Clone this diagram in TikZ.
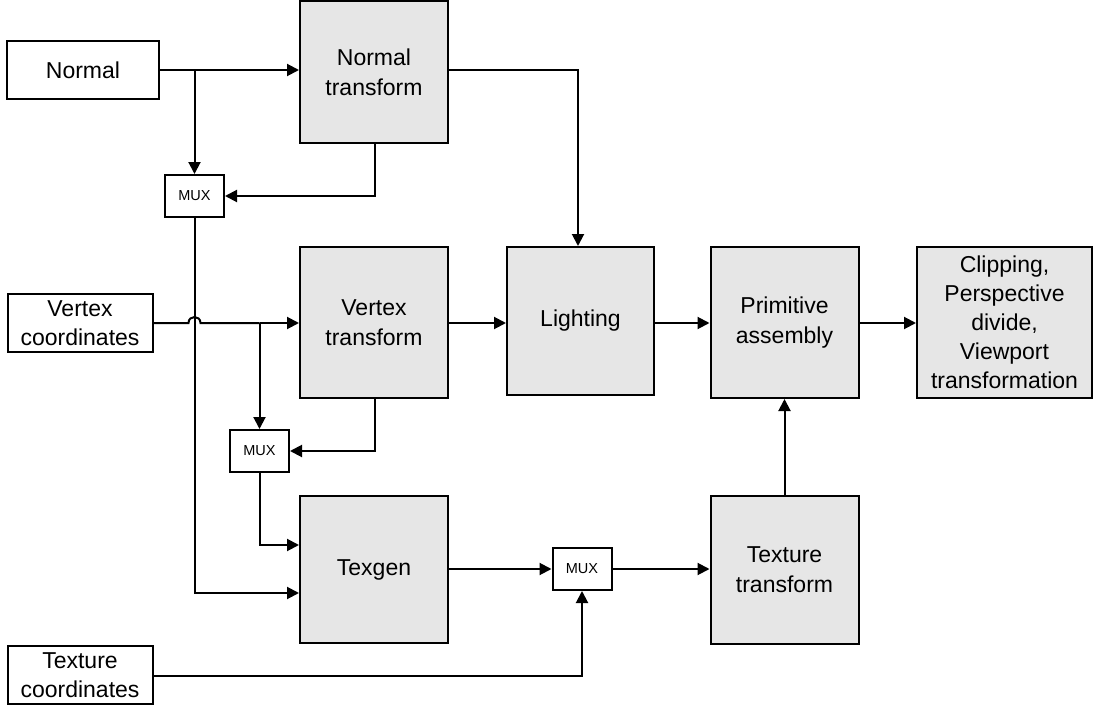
\documentclass[tikz,border=0pt]{standalone}
\usepackage{fontspec}
\setmainfont{Liberation Sans}
\usetikzlibrary{arrows.meta,calc}
\definecolor{boxgray}{HTML}{E6E6E6}
\tikzset{
  wbox/.style={draw,line width=2pt,fill=white,inner sep=0pt,align=center,font=\fontsize{23}{29}\selectfont},
  gbox/.style={draw,line width=2pt,fill=boxgray,inner sep=0pt,align=center,font=\fontsize{23}{30}\selectfont,minimum width=148pt},
  muxbox/.style={draw,line width=2pt,fill=white,inner sep=0pt,minimum width=59pt,minimum height=42pt,font=\fontsize{14.5}{16}\selectfont},
  conn/.style={line width=2pt},
  arr/.style={conn,-{Triangle[length=12pt,width=12pt]}}
}
\begin{document}
\begin{tikzpicture}[x=1pt,y=-1pt]
\useasboundingbox (0,0) rectangle (1093,709);
% input boxes
\node[wbox,minimum width=152pt,minimum height=58pt] (normal) at (83,70) {Normal};
\node[wbox,minimum width=145pt,minimum height=58pt] (vc) at (80,323) {Vertex\\coordinates};
\node[wbox,minimum width=145pt,minimum height=58pt] (tc) at (80,675) {Texture\\coordinates};
% processing boxes
\node[gbox,minimum height=142pt] (nt) at (374,72) {Normal\\transform};
\node[gbox,minimum height=151pt] (vt) at (374,322.5) {Vertex\\transform};
\node[gbox,minimum width=147pt,minimum height=148pt] (light) at (580.5,321) {Lighting};
\node[gbox,minimum height=151pt] (prim) at (784.5,322.5) {Primitive\\assembly};
\node[gbox,minimum width=175pt,minimum height=151pt,font=\fontsize{23}{29}\selectfont] (clip) at (1004.5,322.5) {Clipping,\\Perspective\\divide,\\Viewport\\transformation};
\node[gbox,minimum height=147pt] (texgen) at (374,569.5) {Texgen};
\node[gbox,minimum height=148pt] (tt) at (784.5,570) {Texture\\transform};
% multiplexers
\node[muxbox] (mux1) at (194.5,196) {MUX};
\node[muxbox] (mux2) at (259.5,451) {MUX};
\node[muxbox] (mux3) at (582,569) {MUX};
% coordinates for routing
\coordinate (n1) at (194.5,70);
\coordinate (v1) at (259.5,323);
\coordinate (hopL) at (188.5,323);
\coordinate (hopR) at (200.5,323);
% Normal connections
\draw[arr] (normal.east |- n1) -- (nt.west |- n1);
\draw[arr] (n1) -- (mux1.north);
\draw[arr] (nt.south -| 375,0) |- (mux1.east);
\draw[arr] (nt.east |- n1) -| (light.north -| 578,0);
% MUX1 output to Texgen
\draw[arr] (mux1.south) |- (texgen.west |- 0,593);
% Vertex coordinates with hop
\draw[conn] (vc.east |- v1) -- (hopL) .. controls ($(hopL)+(0,-8)$) and ($(hopR)+(0,-8)$) .. (hopR) -- (v1);
\draw[arr] (v1) -- (vt.west |- v1);
\draw[arr] (v1) -- (mux2.north);
\draw[arr] (vt.south -| 375,0) |- (mux2.east);
\draw[arr] (mux2.south) |- (texgen.west |- 0,545);
% main pipeline
\draw[arr] (vt.east |- v1) -- (light.west |- v1);
\draw[arr] (light.east |- v1) -- (prim.west |- v1);
\draw[arr] (prim.east |- v1) -- (clip.west |- v1);
% texture path
\draw[arr] (texgen.east |- mux3) -- (mux3.west);
\draw[arr] (mux3.east) -- (tt.west |- mux3);
\draw[arr] (tc.east |- 0,676) -| (mux3.south);
\draw[arr] (tt.north) -- (prim.south);
\end{tikzpicture}
\end{document}
